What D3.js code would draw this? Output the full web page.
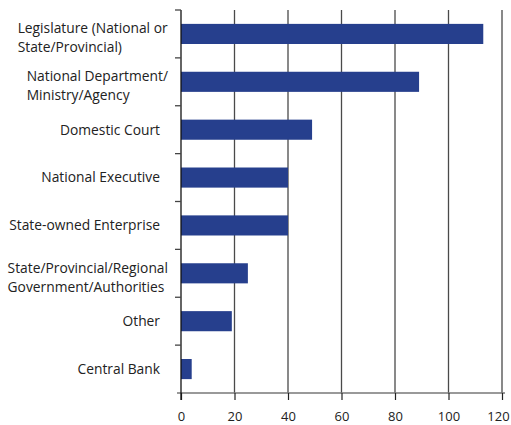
<!DOCTYPE html>
<html><head><meta charset="utf-8">
<script src="https://cdn.jsdelivr.net/npm/d3@7"></script>
<style>body{margin:0;background:#fff}svg{display:block}text{font-family:"Open Sans",sans-serif;fill:#222}</style>
</head><body><svg id="c" width="511" height="425"></svg>
<script>
const categories = [
  ["Legislature (National or", "State/Provincial)"],
  ["National Department/", "Ministry/Agency"],
  ["Domestic Court"],
  ["National Executive"],
  ["State-owned Enterprise"],
  ["State/Provincial/Regional", "Government/Authorities"],
  ["Other"],
  ["Central Bank"]
];
const values = [113, 89, 49, 40, 40, 25, 19, 4];
const tickValues = [0, 20, 40, 60, 80, 100, 120];

const svg = d3.select("#c");
const x = d3.scaleLinear().domain([0, 120]).range([181, 502]);
const y = d3.scaleBand().domain(d3.range(categories.length)).range([10, 393]).paddingInner(0.58).paddingOuter(0.29);
const band = (393 - 10) / categories.length;

// gridlines
svg.append("g").selectAll("line").data(tickValues.slice(1)).join("line")
  .attr("x1", d => x(d)).attr("x2", d => x(d)).attr("y1", 10).attr("y2", 393)
  .attr("stroke", "#4a4a4a").attr("stroke-width", 1.3);

// bars
svg.append("g").selectAll("rect").data(values).join("rect")
  .attr("x", x(0)).attr("y", (d, i) => y(i)).attr("width", d => x(d) - x(0)).attr("height", y.bandwidth())
  .attr("fill", "#263F8D");

// x axis
const xa = svg.append("g").attr("transform", "translate(0,393)")
  .call(d3.axisBottom(x).tickValues(tickValues).tickSize(7).tickPadding(12).tickSizeOuter(0));
xa.select(".domain").attr("stroke", "#777").attr("stroke-width", 1.5).attr("d", "M177,0H505");
xa.selectAll(".tick line").attr("stroke", "#222").attr("stroke-width", 1.2);
xa.selectAll(".tick text").style("font-family", '"Open Sans",sans-serif').style("font-size", "13px").attr("fill", "#222")
  .attr("dx", d => d === 120 ? -4 : 0);

// y axis line + boundary ticks
svg.append("line").attr("x1", x(0)).attr("x2", x(0)).attr("y1", 10).attr("y2", 400).attr("stroke", "#111").attr("stroke-width", 1.3);
svg.append("g").selectAll("line").data(d3.range(categories.length)).join("line")
  .attr("x1", 175).attr("x2", x(0)).attr("y1", i => 10 + i * band).attr("y2", i => 10 + i * band)
  .attr("stroke", "#444").attr("stroke-width", 1.3);

// category labels
const lab = svg.append("g").style("font-size", "13.8px");
categories.forEach((lines, i) => {
  const cy = 10 + (i + 0.5) * band;
  if (lines.length === 1) {
    lab.append("text").attr("x", 160).attr("y", cy).attr("dy", "0.35em").attr("text-anchor", "end").text(lines[0]);
  } else {
    const t = lab.append("text").attr("y", cy + 4 - 9.5).attr("dy", "0.35em");
    lines.forEach((l, j) => t.append("tspan").attr("x", 0).attr("y", cy + 4 - 9.5 + j * 19).attr("dy", "0.35em").text(l));
    const w = t.node().getBBox().width;
    t.selectAll("tspan").attr("x", 168 - w);
  }
});
</script></body></html>
